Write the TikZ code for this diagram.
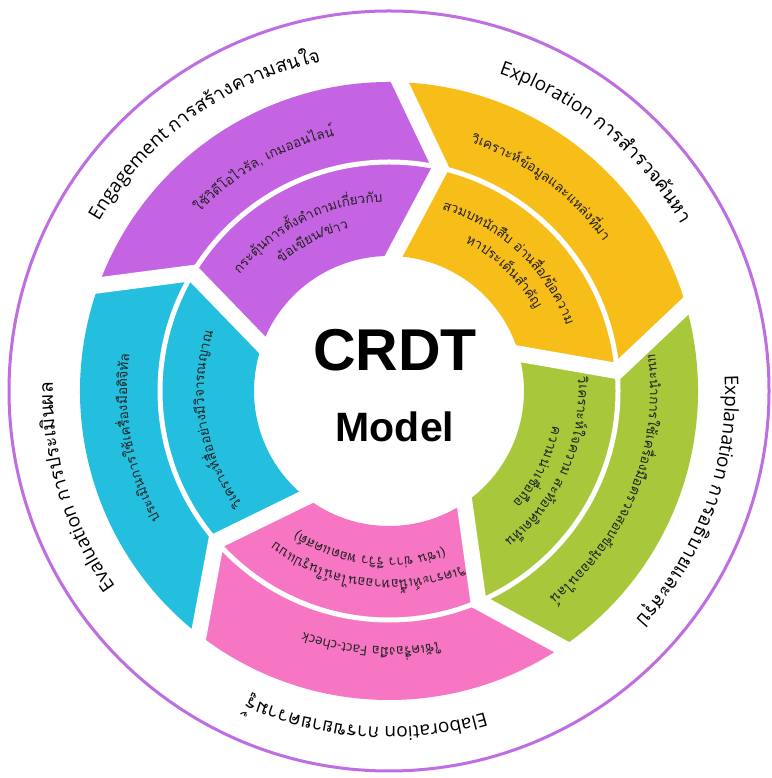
\documentclass[tikz,border=0pt]{standalone}
\usepackage{fontspec}
\usetikzlibrary{decorations.text,calc}
\newfontfamily\thaif[Script=Thai]{Loma}
\newfontfamily\latf{Open Sans}
\newfontfamily\crdtf{Liberation Sans}
\definecolor{cpur}{HTML}{C564E2}
\definecolor{cora}{HTML}{F7BE1A}
\definecolor{cgre}{HTML}{A8C73A}
\definecolor{cpin}{HTML}{F676C4}
\definecolor{cblu}{HTML}{24BEDE}
\definecolor{cring}{HTML}{BE6EE1}
\definecolor{ctxt}{HTML}{222222}
\newcommand\labf{\fontsize{19}{19}\selectfont}
\newcommand\segf{\fontsize{13.5}{14}\selectfont}
\def\Ro{309}\def\Rm{229}\def\Ri{135}\def\dd{11}
\newcommand\segment[3]{%
  \fill[#1] ($(C)+(#2:\Ro)$) arc[start angle=#2,end angle=#3,radius=\Ro]
    -- ($(C)+({#3-\dd}:\Rm)$) -- ($(C)+(#3:\Ri)$)
    arc[start angle=#3,end angle=#2,radius=\Ri]
    -- ($(C)+({#2-\dd}:\Rm)$) -- cycle;}
\newcommand\gapline[1]{%
  \coordinate (t) at ($(C)+({#1-\dd}:\Rm)$);
  \coordinate (o) at ($(C)+(#1:\Ro)$);
  \coordinate (i) at ($(C)+(#1:\Ri)$);
  \draw[gapstyle] ($(t)!1.3!(o)$) -- (t) -- ($(t)!1.3!(i)$);}
\newcommand\arctext[3]{%
  \path[decorate,decoration={text along path,text align=center,text={#3}}]
    ($(C)+({#1+55}:#2)$) arc[start angle={#1+55},end angle={#1-55},radius=#2];}
\tikzset{gapstyle/.style={white,line width=16pt,line join=miter}}
\begin{document}
\begin{tikzpicture}[x=1pt,y=1pt]
\useasboundingbox (0,0) rectangle (771,778);
\fill[white] (0,0) rectangle (771,778);
\coordinate (C) at (389,387);
% outer ring
\draw[cring,line width=3pt] (C) circle[radius=380];
% segments
\segment{cpur}{160}{88}
\segment{cora}{88}{16}
\segment{cgre}{16}{-56}
\segment{cpin}{-56}{-128}
\segment{cblu}{232}{160}
% gaps
\gapline{88}
\gapline{16}
\gapline{-56}
\gapline{-128}
\gapline{160}
\draw[white,line width=5pt] (C) circle[radius=\Rm];
% centre title
\node[font=\crdtf\bfseries\fontsize{59}{59}\selectfont] (crdt) at (395,428) {CRDT};
\node[font=\crdtf\bfseries\fontsize{41}{41}\selectfont] (model) at (395,351) {Model};
% ring labels
\arctext{125.7}{336}{|\latf\labf|Engagement |\thaif\labf|{การ}{สร้าง}{ความ}{สน}{ใจ}}
\arctext{50.3}{336}{|\latf\labf|Exploration |\thaif\labf|{การ}{สำ}{รวจ}{ค้น}{หา}}
\arctext{-20}{336}{|\latf\labf|Explanation |\thaif\labf|{การ}{อธิ}{บาย}{และ}{สรุป}}
\arctext{-94}{336}{|\latf\labf|Elaboration |\thaif\labf|{การ}{ขยาย}{ความ}{รู้}}
\arctext{197}{336}{|\latf\labf|Evaluation |\thaif\labf|{การ}{ประ}{เมิน}{ผล}}
% purple
\arctext{119.4}{260}{|\thaif\segf\color{ctxt}|{ใช้}{วิ}{ดี}{โอ}{ไว}{รัล}, {เกม}{ออน}{ไลน์}}
\arctext{117}{189}{|\thaif\segf\color{ctxt}|{กระ}{ตุ้น}{การ}{ตั้ง}{คำ}{ถาม}{เกี่ยว}{กับ}}
\arctext{117}{167}{|\thaif\segf\color{ctxt}|{ข้อ}{เขียน}/{ข่าว}}
% orange
\arctext{53.3}{261}{|\thaif\segf\color{ctxt}|{วิ}{เคราะห์}{ข้อ}{มูล}{และ}{แหล่ง}{ที่}{มา}}
\arctext{47}{189}{|\thaif\segf\color{ctxt}|{สวม}{บท}{นัก}{สืบ} {อ่าน}{สื่อ}/{ข้อ}{ความ}}
\arctext{46}{167}{|\thaif\segf\color{ctxt}|{หา}{ประ}{เด็น}{สำ}{คัญ}}
% green
\arctext{-22}{261}{|\thaif\segf\color{ctxt}|{แนะ}{นำ}{การ}{ใช้}{เครื่อง}{มือ}{ตรวจ}{สอบ}{ข้อ}{มูล}{ออน}{ไลน์}}
\arctext{-24}{189}{|\thaif\segf\color{ctxt}|{วิ}{เคราะห์}{ใจ}{ความ} {สะ}{ท้อน}{คิด}{เห็น}}
\arctext{-27}{167}{|\thaif\segf\color{ctxt}|{ความ}{น่า}{เชื่อ}{ถือ}}
% pink
\arctext{-94}{256}{|\thaif\segf\color{ctxt}|{ใช้}{เครื่อง}{มือ} |\latf\segf\color{ctxt}|Fact-check}
\arctext{-97}{189}{|\thaif\segf\color{ctxt}|{วิ}{เคราะห์}{เนื้อ}{หา}{ออน}{ไลน์}{ใน}{รูป}{แบบ}}
\arctext{-97}{167}{|\thaif\segf\color{ctxt}|({เช่น} {ข่าว} {รี}{วิว} {พอด}{แคสต์})}
% blue
\arctext{190.6}{262}{|\thaif\segf\color{ctxt}|{ประ}{เมิน}{การ}{ใช้}{เครื่อง}{มือ}{ดิ}{จิ}{ทัล}}
\arctext{189.6}{185}{|\thaif\segf\color{ctxt}|{วิ}{เคราะห์}{สื่อ}{อย่าง}{มี}{วิ}{จา}{รณ}{ญาณ}}
\end{tikzpicture}
\end{document}
